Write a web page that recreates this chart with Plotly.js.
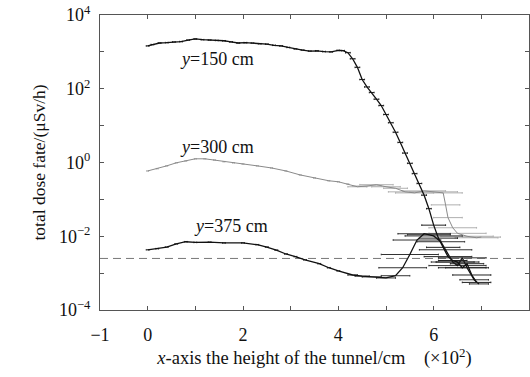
<!DOCTYPE html>
<html>
<head>
<meta charset="utf-8">
<script src="https://cdn.plot.ly/plotly-3.0.1.min.js"></script>
<style>html,body{margin:0;padding:0;background:#fff;}#chart{width:530px;height:377px;}</style>
</head>
<body>
<div id="chart"></div>
<script>
// y = 150 cm
const x150 = [0.0,0.1,0.25,0.4,0.55,0.7,0.85,1.0,1.15,1.3,1.45,1.6,1.75,1.9,2.05,2.2,2.35,2.5,2.65,2.8,2.95,3.1,3.25,3.4,3.55,3.7,3.85,4.0,4.1,4.2,4.3,4.4,4.5,4.6,4.7,4.8,4.9,5.0,5.1,5.2,5.3,5.4,5.5,5.6,5.7,5.8,5.9,6.0,6.1,6.2,6.3,6.4,6.5,6.6,6.7,6.8,6.9];
const dose150 = [1450,1580,1740,1780,1860,1900,2090,2240,2140,2090,2040,2000,1860,1740,1780,1740,1660,1620,1510,1450,1320,1200,1120,1050,1070,1020,1000,1100,1080,950,650,380,178,112,79,52,35,20,12,6.6,3.5,1.8,0.95,0.50,0.27,0.13,0.056,0.020,0.0089,0.0050,0.0028,0.0022,0.0020,0.0014,0.0018,0.00089,0.00056];
const err150 = [0.03,0.03,0.03,0.03,0.03,0.03,0.03,0.03,0.03,0.03,0.03,0.03,0.03,0.03,0.03,0.03,0.03,0.03,0.03,0.03,0.03,0.03,0.03,0.03,0.03,0.03,0.03,0.03,0.03,0.05,0.05,0.05,0.05,0.05,0.05,0.05,0.05,0.05,0.05,0.05,0.05,0.05,0.05,0.05,0.05,0.05,0.05,0.25,0.4,0.35,0.5,0.3,0.45,0.5,0.35,0.4,0.3];

// y = 300 cm
const x300 = [0.0,0.2,0.4,0.6,0.8,1.0,1.2,1.4,1.6,1.8,2.0,2.3,2.6,2.9,3.2,3.5,3.8,4.0,4.2,4.4,4.6,4.8,5.0,5.2,5.4,5.6,5.8,6.0,6.2,6.25,6.3,6.4,6.5,6.7,6.9,7.0];
const dose300 = [0.59,0.68,0.81,0.98,1.10,1.26,1.26,1.17,1.05,0.98,0.91,0.81,0.71,0.59,0.46,0.38,0.32,0.30,0.26,0.22,0.23,0.25,0.22,0.20,0.16,0.15,0.17,0.16,0.15,0.071,0.032,0.017,0.012,0.010,0.0091,0.0095];
const err300 = [0.02,0.02,0.02,0.02,0.02,0.02,0.02,0.02,0.02,0.02,0.02,0.02,0.02,0.02,0.02,0.02,0.02,0.02,0.02,0.2,0.3,0.35,0.3,0.25,0.35,0.4,0.45,0.5,0.4,0.3,0.3,0.5,0.6,0.55,0.45,0.4];

// y = 375 cm
const x375 = [0.0,0.2,0.4,0.6,0.8,1.0,1.3,1.6,2.0,2.3,2.5,2.7,2.9,3.1,3.3,3.6,3.8,4.0,4.3,4.5,4.7,5.0,5.2,5.35,5.5,5.65,5.8,5.9,6.0,6.15,6.25,6.4,6.5,6.6,6.7,6.85,6.95];
const dose375 = [0.0043,0.0046,0.0051,0.0062,0.0071,0.0068,0.0069,0.0066,0.0066,0.0059,0.0051,0.0042,0.0033,0.0028,0.0023,0.0018,0.0014,0.00115,0.00089,0.00083,0.00079,0.00074,0.00085,0.0014,0.0032,0.0079,0.0117,0.011,0.0102,0.0071,0.0043,0.0020,0.0016,0.0026,0.0014,0.00066,0.00051];
const err375 = [0.03,0.03,0.03,0.03,0.03,0.03,0.03,0.03,0.03,0.03,0.03,0.03,0.03,0.03,0.03,0.03,0.03,0.03,0.1,0.15,0.2,0.2,0.3,0.5,0.6,0.5,0.55,0.45,0.6,0.5,0.55,0.45,0.6,0.5,0.45,0.3,0.2];

// limit line
const limitX = [-1, 8];
const limitY = [0.0025, 0.0025];

const xTickVals = [-1,0,2,4,6,8];
const xTickText = ['\u22121','0','2','4','6','8'];
const xMinorVals = [1,3,5,7];
const yTickVals = [1e-4,1e-2,1,100,10000];
const yTickText = ['10<sup>\u22124</sup>','10<sup>\u22122</sup>','10<sup>0</sup>','10<sup>2</sup>','10<sup>4</sup>'];
const yMinorVals = [1e-3,1e-1,10,1000];

const labels = ['<i>y</i>=150 cm','<i>y</i>=300 cm','<i>y</i>=375 cm'];

const serif = 'Liberation Serif, Times New Roman, serif';

const traces = [
  {x: limitX, y: limitY, mode:'lines', line:{color:'#777', width:1, dash:'8px,5px'}, hoverinfo:'skip'},
  {x: x300, y: dose300, mode:'lines', line:{color:'#8a8a8a', width:1},
   error_x:{type:'data', array: err300, color:'#b0b0b0', thickness:1, width:0.8}},
  {x: x375, y: dose375, mode:'lines', line:{color:'#111', width:1.3},
   error_x:{type:'data', array: err375, color:'#333', thickness:1, width:0.8}},
  {x: x150, y: dose150, mode:'lines', line:{color:'#111', width:1.3},
   error_x:{type:'data', array: err150, color:'#222', thickness:1, width:0.8}}
];

const layout = {
  width:530, height:377,
  margin:{l:100, r:1, t:15, b:67},
  paper_bgcolor:'#fff', plot_bgcolor:'#fff',
  showlegend:false,
  font:{family: serif, color:'#111', size:18},
  xaxis:{
    range:[-1,8], tickmode:'array', tickvals:xTickVals, ticktext:xTickText,
    ticks:'inside', ticklen:4, tickcolor:'#555', showline:true, linecolor:'#555', linewidth:1,
    mirror:'ticks', showgrid:false, zeroline:false, ticklabelstandoff:8,
    minor:{tickmode:'array', tickvals:xMinorVals, ticks:'inside', ticklen:4, tickcolor:'#555', showgrid:false},
    tickfont:{family: serif, size:18, color:'#111'},
    title:{text:'<i>x</i>-axis the height of the tunnel/cm    (\u00d710<sup>2</sup>)', font:{family: serif, size:18.5, color:'#111'}, standoff:6}
  },
  yaxis:{
    type:'log', range:[-4,4], tickmode:'array', tickvals:yTickVals, ticktext:yTickText,
    ticks:'inside', ticklen:4, tickcolor:'#555', showline:true, linecolor:'#555', linewidth:1,
    mirror:'ticks', showgrid:false, zeroline:false, ticklabelstandoff:5,
    minor:{tickmode:'array', tickvals:yMinorVals, ticks:'inside', ticklen:4, tickcolor:'#555', showgrid:false},
    tickfont:{family: serif, size:18, color:'#111'},
    title:{text:'total dose fate/(\u03bcSv/h)', font:{family: serif, size:17.5, color:'#111'}, standoff:8}
  },
  annotations:[
    {x:1.45, y:2.8, xref:'x', yref:'y', text:labels[0], showarrow:false, font:{family:serif, size:18, color:'#111'}},
    {x:1.45, y:0.42, xref:'x', yref:'y', text:labels[1], showarrow:false, font:{family:serif, size:18, color:'#111'}},
    {x:1.75, y:-1.73, xref:'x', yref:'y', text:labels[2], showarrow:false, font:{family:serif, size:18, color:'#111'}}
  ]
};

Plotly.newPlot('chart', traces, layout, {staticPlot:true, displayModeBar:false});
</script>
</body>
</html>
